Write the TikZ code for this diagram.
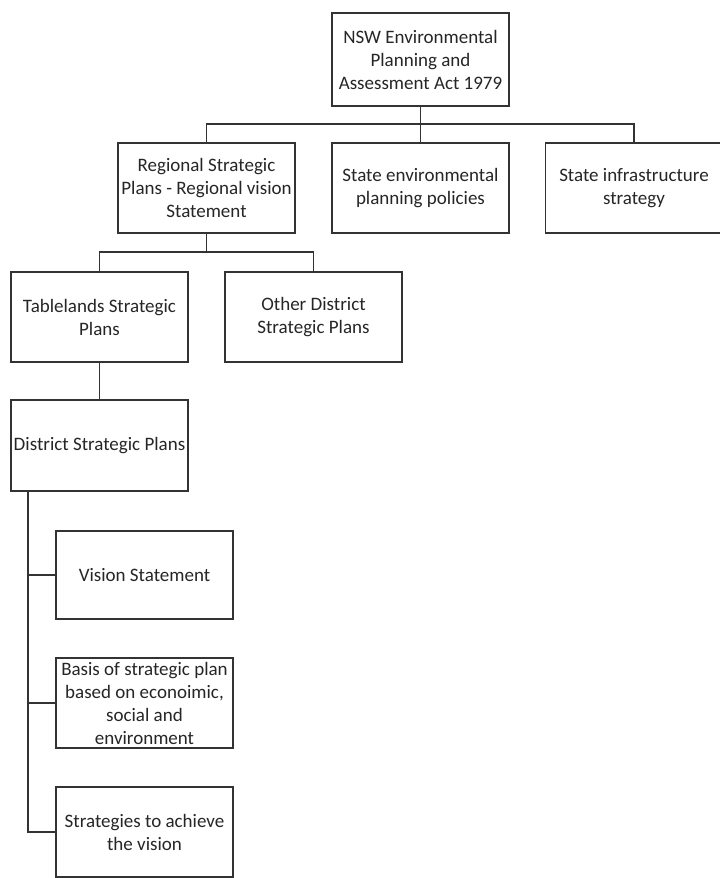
\documentclass[tikz,border=0pt]{standalone}
\usepackage{fontspec}
\setmainfont{Carlito}
\tikzset{
plan/.style={draw=black!80, line width=1.1pt, fill=white,
minimum width=177pt, minimum height=90pt, inner sep=0.5pt,
align=center, text=black!85, font=\fontsize{19}{23}\selectfont},
link/.style={draw=black!80, line width=1.1pt}
}

\begin{document}
\begin{tikzpicture}[x=1pt, y=-1pt]
\useasboundingbox (0,0) rectangle (720,878);
    
    % Ley principal
\node[plan, minimum height=93pt] (act) at (420.5,59.5) {NSW Environmental\\Planning and\\Assessment Act 1979};
    
    % Segundo nivel
\node[plan] (regional) at (206.5,188) {Regional Strategic\\Plans - Regional vision\\Statement};
\node[plan] (stateenv) at (420.5,188) {State environmental\\planning policies};
\node[plan] (stateinfra) at (634,188) {State infrastructure\\strategy};
\coordinate (busA) at (420.5,124);
\draw[link] (act.south) -- (stateenv.north);
\draw[link] (regional.north) |- (busA) -| (stateinfra.north);
    
    % Tercer nivel
\node[plan] (tablelands) at (99.5,317) {Tablelands Strategic\\Plans};
\node[plan] (otherdist) at (313.5,317) {Other District\\Strategic Plans};
\coordinate (busB) at (206.5,252);
\draw[link] (regional.south) -- (busB);
\draw[link] (tablelands.north) |- (busB) -| (otherdist.north);
    
    % Plan de distrito
\node[plan, minimum height=91pt] (district) at (99.5,445.5) {District Strategic Plans};
\draw[link] (tablelands.south) -- (district.north);
    
    % Componentes del plan
\node[plan, minimum height=88pt] (vision) at (144.5,575) {Vision Statement};
\node[plan] (basis) at (144.5,703) {Basis of strategic plan\\based on econoimic,\\social and\\environment};
\node[plan] (strategies) at (144.5,832) {Strategies to achieve\\the vision};
\coordinate (trunkTop) at (28,491);
\draw[link] (trunkTop) |- (strategies.west);
\draw[link] (trunkTop |- vision.west) -- (vision.west);
\draw[link] (trunkTop |- basis.west) -- (basis.west);
    
\end{tikzpicture}
\end{document}
